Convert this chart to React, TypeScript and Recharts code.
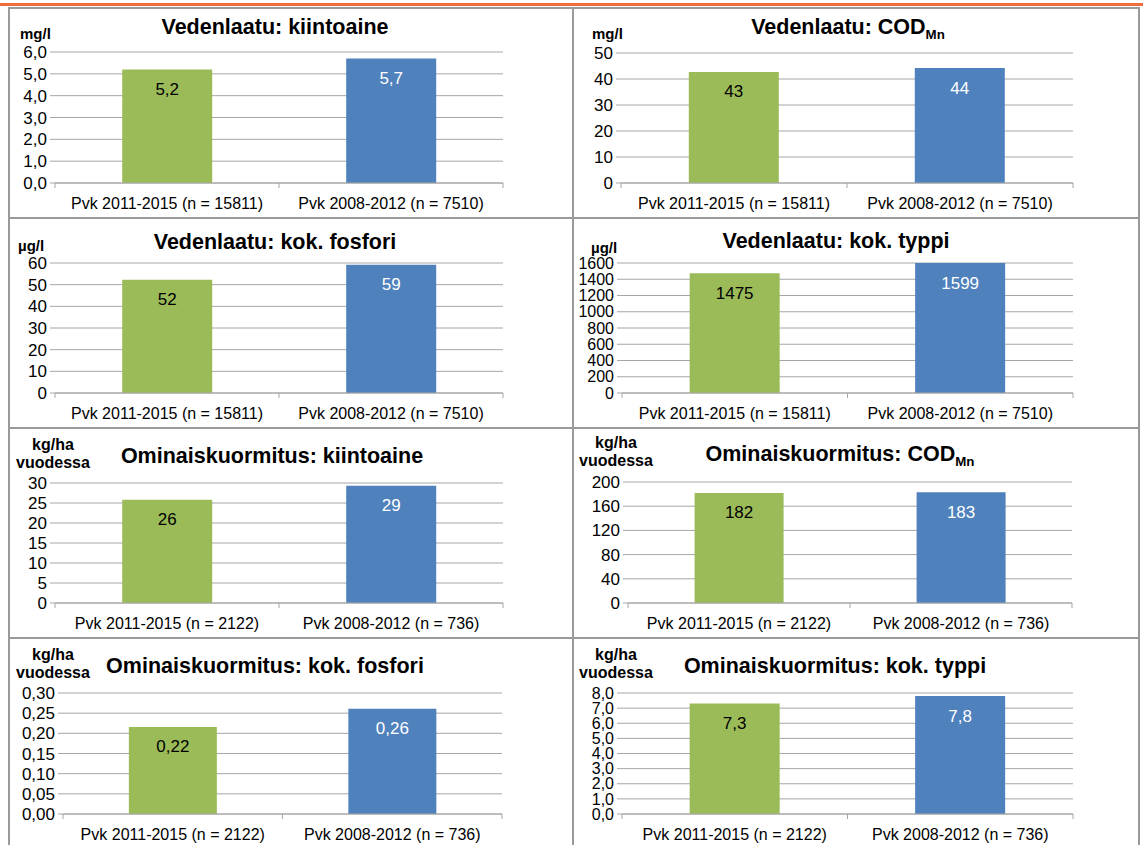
import { FC, ReactNode } from 'react'
import { BarChart, Bar, XAxis, YAxis, CartesianGrid, Cell, LabelList } from 'recharts'

// categories
const waterCategories = ['Pvk 2011-2015 (n = 15811)', 'Pvk 2008-2012 (n = 7510)']
const loadCategories = ['Pvk 2011-2015 (n = 2122)', 'Pvk 2008-2012 (n = 736)']

// values (water quality)
const waterSolids = [5.2, 5.7]
const waterCod = [42.7, 44.2]
const waterPhosphorus = [52.3, 59.2]
const waterNitrogen = [1475, 1599]

// values (specific load, kg/ha per year)
const loadSolids = [25.8, 29.3]
const loadCod = [182, 183]
const loadPhosphorus = [0.216, 0.261]
const loadNitrogen = [7.3, 7.8]

// y ticks
const ticksWaterSolids = [0, 1, 2, 3, 4, 5, 6]
const ticksWaterCod = [0, 10, 20, 30, 40, 50]
const ticksWaterPhosphorus = [0, 10, 20, 30, 40, 50, 60]
const ticksWaterNitrogen = [0, 200, 400, 600, 800, 1000, 1200, 1400, 1600]
const ticksLoadSolids = [0, 5, 10, 15, 20, 25, 30]
const ticksLoadCod = [0, 40, 80, 120, 160, 200]
const ticksLoadPhosphorus = [0, 0.05, 0.1, 0.15, 0.2, 0.25, 0.3]
const ticksLoadNitrogen = [0, 1, 2, 3, 4, 5, 6, 7, 8]

const BAR_COLORS = ['#9BBB59', '#4F81BD']
const LABEL_COLORS = ['#000000', '#ffffff']
const GRID = '#a6a6a6'
const FONT = '"Liberation Sans", Arial, sans-serif'

const COL_X = [8, 572]
const COL_W = [566, 568]
const ROW_Y = [7, 217, 427, 637]
const ROW_H = 212

const fmt = (v: number, d: number) => v.toFixed(d).replace('.', ',')

interface PanelDef {
  col: number
  row: number
  title: ReactNode
  titleX: number
  titleY: number
  unit: string[]
  unitX: number
  unitY: number
  categories: string[]
  values: number[]
  ticks: number[]
  tickDecimals: number
  labelDecimals: number
  plot: { l: number; r: number; t: number; b: number }
  tickFont: number
}

const Sub: FC<{ children: ReactNode }> = ({ children }) => (
  <span style={{ fontSize: '0.62em', position: 'relative', top: '0.35em' }}>{children}</span>
)

const panels: PanelDef[] = [
  {
    col: 0, row: 0, title: 'Vedenlaatu: kiintoaine', titleX: 267, titleY: 21,
    unit: ['mg/l'], unitX: 12, unitY: 26,
    categories: waterCategories, values: waterSolids, ticks: ticksWaterSolids,
    tickDecimals: 1, labelDecimals: 1, plot: { l: 47, r: 495, t: 45, b: 176 }, tickFont: 17,
  },
  {
    col: 1, row: 0, title: <>Vedenlaatu: COD<Sub>Mn</Sub></>, titleX: 276, titleY: 21,
    unit: ['mg/l'], unitX: 20, unitY: 26,
    categories: waterCategories, values: waterCod, ticks: ticksWaterCod,
    tickDecimals: 0, labelDecimals: 0, plot: { l: 49, r: 501, t: 46, b: 176 }, tickFont: 17,
  },
  {
    col: 0, row: 1, title: 'Vedenlaatu: kok. fosfori', titleX: 267, titleY: 26,
    unit: ['µg/l'], unitX: 10, unitY: 28,
    categories: waterCategories, values: waterPhosphorus, ticks: ticksWaterPhosphorus,
    tickDecimals: 0, labelDecimals: 0, plot: { l: 47, r: 495, t: 46, b: 176 }, tickFont: 17,
  },
  {
    col: 1, row: 1, title: 'Vedenlaatu: kok. typpi', titleX: 264, titleY: 25,
    unit: ['µg/l'], unitX: 19, unitY: 30,
    categories: waterCategories, values: waterNitrogen, ticks: ticksWaterNitrogen,
    tickDecimals: 0, labelDecimals: 0, plot: { l: 50, r: 501, t: 46, b: 176 }, tickFont: 16,
  },
  {
    col: 0, row: 2, title: 'Ominaiskuormitus: kiintoaine', titleX: 264, titleY: 30,
    unit: ['kg/ha', 'vuodessa'], unitX: 45, unitY: 18,
    categories: loadCategories, values: loadSolids, ticks: ticksLoadSolids,
    tickDecimals: 0, labelDecimals: 0, plot: { l: 47, r: 495, t: 56, b: 176 }, tickFont: 17,
  },
  {
    col: 1, row: 2, title: <>Ominaiskuormitus: COD<Sub>Mn</Sub></>, titleX: 268, titleY: 28,
    unit: ['kg/ha', 'vuodessa'], unitX: 44, unitY: 16,
    categories: loadCategories, values: loadCod, ticks: ticksLoadCod,
    tickDecimals: 0, labelDecimals: 0, plot: { l: 56, r: 500, t: 55, b: 176 }, tickFont: 17,
  },
  {
    col: 0, row: 3, title: 'Ominaiskuormitus: kok. fosfori', titleX: 257, titleY: 30,
    unit: ['kg/ha', 'vuodessa'], unitX: 45, unitY: 18,
    categories: loadCategories, values: loadPhosphorus, ticks: ticksLoadPhosphorus,
    tickDecimals: 2, labelDecimals: 2, plot: { l: 55, r: 494, t: 56, b: 177 }, tickFont: 17,
  },
  {
    col: 1, row: 3, title: 'Ominaiskuormitus: kok. typpi', titleX: 263, titleY: 30,
    unit: ['kg/ha', 'vuodessa'], unitX: 44, unitY: 18,
    categories: loadCategories, values: loadNitrogen, ticks: ticksLoadNitrogen,
    tickDecimals: 1, labelDecimals: 1, plot: { l: 50, r: 501, t: 56, b: 177 }, tickFont: 16,
  },
]

const Panel: FC<{ p: PanelDef }> = ({ p }) => {
  const w = COL_W[p.col]
  const h = ROW_H
  const data = p.categories.map((name, i) => ({ name, value: p.values[i] }))
  const half = (p.plot.r - p.plot.l) / 4
  const top = p.ticks[p.ticks.length - 1]

  const renderTick = (props: any) => {
    const { x, y, payload, index } = props
    return (
      <g>
        <line x1={x - half} y1={y} x2={x - half} y2={y + 5} stroke={GRID} />
        {index === data.length - 1 && <line x1={x + half} y1={y} x2={x + half} y2={y + 5} stroke={GRID} />}
        <text x={x} y={y + 26} textAnchor="middle" fontSize={16} fill="#000">
          {payload.value}
        </text>
      </g>
    )
  }

  const renderLabel = (props: any) => {
    const { x, y, width, value, index } = props
    return (
      <text
        x={x + width / 2}
        y={y + 20}
        textAnchor="middle"
        dominantBaseline="central"
        fontSize={17}
        fill={LABEL_COLORS[index ?? 0]}>
        {fmt(value, p.labelDecimals)}
      </text>
    )
  }

  return (
    <div style={{ position: 'absolute', left: COL_X[p.col], top: ROW_Y[p.row], width: w, height: h }}>
      <BarChart
        width={w}
        height={h}
        data={data}
        barCategoryGap="30%"
        margin={{ top: p.plot.t, right: w - p.plot.r, left: 0, bottom: 0 }}>
        <CartesianGrid vertical={false} stroke={GRID} />
        <XAxis
          dataKey="name"
          height={h - p.plot.b}
          interval={0}
          tickLine={false}
          tickSize={0}
          tickMargin={0}
          axisLine={{ stroke: GRID }}
          tick={renderTick}
        />
        <YAxis
          type="number"
          domain={[0, top]}
          ticks={p.ticks}
          interval={0}
          width={p.plot.l}
          axisLine={false}
          tickLine={{ stroke: GRID }}
          tickSize={5}
          tickMargin={3}
          tick={{ fontSize: p.tickFont, fill: '#000' }}
          tickFormatter={(v: number) => fmt(v, p.tickDecimals)}
        />
        <Bar dataKey="value" isAnimationActive={false}>
          {data.map((d, i) => (
            <Cell key={d.name} fill={BAR_COLORS[i]} />
          ))}
          <LabelList dataKey="value" content={renderLabel} />
        </Bar>
      </BarChart>
      <div
        style={{
          position: 'absolute', left: p.titleX, top: p.titleY, transform: 'translate(-50%, -50%)',
          whiteSpace: 'nowrap', fontSize: 21.5, fontWeight: 'bold', lineHeight: 1,
        }}>
        {p.title}
      </div>
      {p.unit.length === 1 ? (
        <div
          style={{
            position: 'absolute', left: p.unitX, top: p.unitY, transform: 'translateY(-50%)',
            fontSize: 15, fontWeight: 'bold', lineHeight: 1, whiteSpace: 'nowrap',
          }}>
          {p.unit[0]}
        </div>
      ) : (
        <div
          style={{
            position: 'absolute', left: p.unitX, top: p.unitY - 9, transform: 'translateX(-50%)',
            fontSize: 16, fontWeight: 'bold', lineHeight: '18px', textAlign: 'center', whiteSpace: 'nowrap',
          }}>
          {p.unit.map((u) => (
            <div key={u}>{u}</div>
          ))}
        </div>
      )}
      <div
        style={{
          position: 'absolute', inset: 0, border: '2px solid #9a9a9a', boxSizing: 'border-box',
          pointerEvents: 'none',
        }}
      />
    </div>
  )
}

const App: FC = () => (
  <div
    style={{
      position: 'absolute', left: 0, top: 0, width: 1143, height: 845, overflow: 'hidden',
      background: '#fff', fontFamily: FONT, color: '#000',
    }}>
    <div style={{ position: 'absolute', left: 0, top: 3, width: 1143, height: 3, background: '#F26B3D' }} />
    {panels.map((p) => (
      <Panel key={`${p.col}-${p.row}`} p={p} />
    ))}
  </div>
)

export default App
